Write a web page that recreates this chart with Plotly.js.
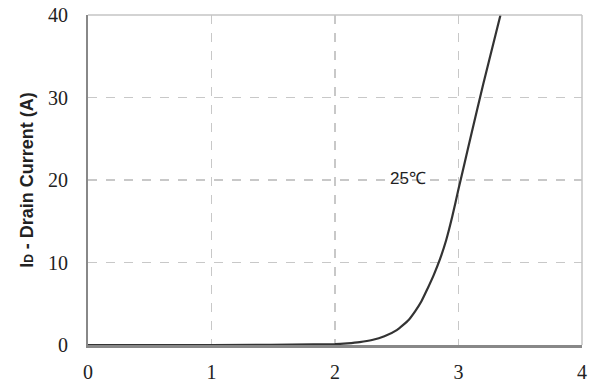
<!DOCTYPE html>
<html>
<head>
<meta charset="utf-8">
<script src="https://cdn.plot.ly/plotly-3.0.1.min.js"></script>
<style>html,body{margin:0;padding:0;background:#fff;}</style>
</head>
<body>
<div id="chart" style="width:592px;height:387px;"></div>
<script>
// Gate voltage (V) and drain current (A) at 25°C
const vgs = [0, 1.0, 2.0, 2.1, 2.2, 2.3, 2.4, 2.5, 2.55, 2.6, 2.65, 2.7, 2.75, 2.8, 2.85, 2.9, 2.95, 3.0, 3.05, 3.1, 3.2, 3.3, 3.34];
const idCurrent = [0, 0, 0.1, 0.2, 0.35, 0.6, 1.05, 1.8, 2.4, 3.1, 4.1, 5.3, 6.85, 8.5, 10.4, 12.7, 15.6, 18.9, 22.1, 25.3, 31.6, 37.6, 40.0];
const xTicks = [0, 1, 2, 3, 4];
const yTicks = [0, 10, 20, 30, 40];
const curveLabel = "25℃";

const tickFont = {family: "Liberation Serif, Times New Roman, serif", size: 20, color: "#222"};

const trace = {
  x: vgs, y: idCurrent, mode: "lines", type: "scatter",
  line: {color: "#333333", width: 2.2, shape: "spline", smoothing: 0.6},
  hoverinfo: "skip", showlegend: false
};

const layout = {
  width: 592, height: 387,
  margin: {l: 88, r: 10, t: 15, b: 42},
  paper_bgcolor: "#fff", plot_bgcolor: "#fff",
  showlegend: false,
  xaxis: {
    range: [0, 4], tickvals: xTicks, ticktext: xTicks.map(String),
    showgrid: true, gridcolor: "#c8c8c8", griddash: "dash", gridwidth: 1.3,
    zeroline: false, showline: true, linecolor: "#888", linewidth: 2.5,
    layer: "below traces",
    ticks: "outside", ticklen: 7, tickcolor: "rgba(0,0,0,0)",
    tickfont: tickFont, fixedrange: true
  },
  yaxis: {
    range: [0, 40], tickvals: yTicks, ticktext: yTicks.map(String),
    showgrid: true, gridcolor: "#c8c8c8", griddash: "dash", gridwidth: 1.3,
    zeroline: false, showline: true, linecolor: "#888", linewidth: 2,
    layer: "below traces",
    ticks: "outside", ticklen: 14, tickcolor: "rgba(0,0,0,0)",
    tickfont: tickFont, fixedrange: true,
    title: {
      text: "I<span style=\"font-size:12px\">D</span> - Drain Current (A)",
      font: {family: "Liberation Sans, Arial, sans-serif", size: 18, color: "#222", weight: "bold"},
      standoff: 10
    }
  },
  shapes: [
    {type: "line", xref: "paper", yref: "paper", x0: 0, x1: 1, y0: 1, y1: 1, line: {color: "#c4c4c4", width: 1.5}},
    {type: "line", xref: "paper", yref: "paper", x0: 1, x1: 1, y0: 0, y1: 1, line: {color: "#c4c4c4", width: 1.5}}
  ],
  annotations: [{
    x: 2.59, y: 20.2, xref: "x", yref: "y", text: curveLabel, showarrow: false,
    font: {family: "Liberation Sans, Arial, sans-serif", size: 17, color: "#222"},
    bgcolor: "rgba(255,255,255,0)"
  }]
};

Plotly.newPlot("chart", [trace], layout, {displayModeBar: false, staticPlot: true});
</script>
</body>
</html>
